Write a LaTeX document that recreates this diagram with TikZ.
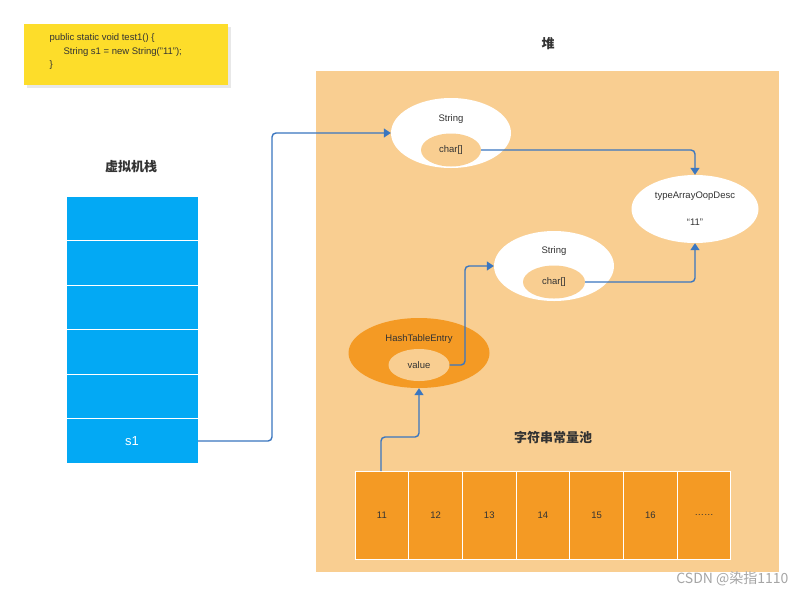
\documentclass[tikz,border=0pt]{standalone}
\usepackage{fontspec}
\setmainfont{Liberation Sans}
\newfontfamily\cjk{Noto Sans CJK SC}
\usetikzlibrary{arrows.meta,shadows,shapes.geometric}
\definecolor{heap}{HTML}{F9CE91}
\definecolor{stk}{HTML}{03A9F4}
\definecolor{org}{HTML}{F49A24}
\definecolor{arr}{HTML}{3A76C0}
\definecolor{note}{HTML}{FDDD2A}
\definecolor{txt}{HTML}{333333}
\begin{document}
\begin{tikzpicture}[x=1pt,y=-1pt,
  lbl/.style={font=\fontsize{9.5}{11}\selectfont,text=txt},
  ttl/.style={font=\cjk\bfseries\fontsize{13}{15}\selectfont,text=txt},
  obj/.style={ellipse,fill=white,draw=none},
  arw/.style={draw=arr,line width=1.4pt,rounded corners=4pt,-{Triangle[length=7pt,width=9pt]}},
  cell/.style={draw=white,line width=1pt}]
\useasboundingbox (0,0) rectangle (806,598);
\fill[white] (0,0) rectangle (806,598);
% note
\node[fill=note,minimum width=204pt,minimum height=61pt,drop shadow={fill=gray!35,shadow xshift=3pt,shadow yshift=-3pt}] (note) at (126,54.5) {};
\node[lbl,anchor=west,align=left,font=\fontsize{9.5}{13.5}\selectfont] (code) at (46,52) {public static void test1() \{\\\hspace{14pt}String s1 = new String("11");\\\}};
% stack
\node[ttl] (vst) at (131,167) {虚拟机栈};
\foreach \i/\y in {0/196,1/240.5,2/285,3/329.5,4/374,5/418.5}{
  \fill[stk,cell] (66,\y) rectangle (198,\y+44.5);}
\node[font=\fontsize{13}{15}\selectfont,text=white] (s1) at (132,441) {s1};
\coordinate (s1r) at (198,441);
% heap
\node[ttl] (heapt) at (548,44) {堆};
\fill[heap] (316,71) rectangle (779,572);
\node[obj,minimum width=120pt,minimum height=70pt] (str1) at (451,133) {};
\node[lbl] at (451,119) {String};
\node[ellipse,fill=heap,minimum width=60pt,minimum height=33pt,lbl] (c1) at (451,150) {char[]};
\node[obj,minimum width=127pt,minimum height=68pt] (ta) at (695,209) {};
\node[lbl] (tat) at (695,196) {typeArrayOopDesc};
\node[lbl] (tav) at (695,222) {“11”};
\node[obj,minimum width=120pt,minimum height=70pt] (str2) at (554,266) {};
\node[lbl] at (554,251) {String};
\node[ellipse,fill=heap,minimum width=62pt,minimum height=33pt,lbl] (c2) at (554,282) {char[]};
\node[ellipse,fill=org,minimum width=141pt,minimum height=70pt] (hte) at (419,353) {};
\node[lbl] at (419,339) {HashTableEntry};
\node[ellipse,fill=heap,minimum width=61pt,minimum height=32pt,lbl] (val) at (419,365) {value};
\node[ttl] (pool) at (553,438) {字符串常量池};
\foreach \t [count=\i from 0] in {11,12,13,14,15,16,……}{
  \fill[org,cell] (355+\i*53.7,471) rectangle (355+\i*53.7+53.7,559);
  \node[lbl] (p\i) at (355+\i*53.7+26.85,515) {\t};}
\coordinate (p0t) at (381,471);
% arrows
\draw[arw] (s1r) -- (272,441) -- (272,133) -- (str1.west);
\draw[arw] (c1.east) -- (695,150) -- (ta.north);
\draw[arw] (c2.east) -- (695,282) -- (ta.south);
\draw[arw] (val.east) -- (465,365) -- (465,266) -- (str2.west);
\draw[arw] (p0t) -- (381,437) -- (419,437) -- (hte.south);
\node[font=\cjk\fontsize{14}{16}\selectfont,text=gray!70,anchor=east] (wm) at (792,579) {CSDN @染指1110};
\end{tikzpicture}
\end{document}
